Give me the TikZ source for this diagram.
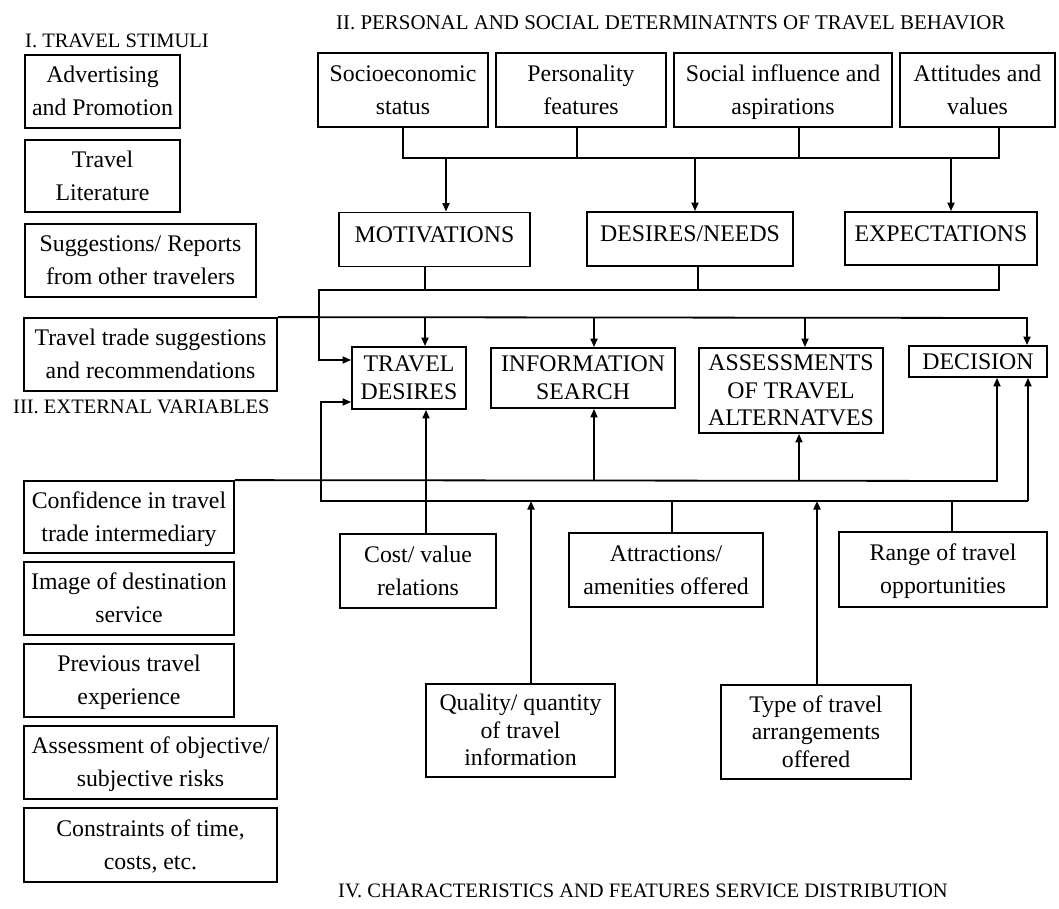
\documentclass[tikz,border=0pt]{standalone}
\usepackage{fontspec}
\setmainfont{Liberation Serif}
\usetikzlibrary{arrows.meta}
\newcommand\bstrut{\rule[-8.9pt]{0pt}{33pt}}
\newcommand\tstrut{\rule[-6.2pt]{0pt}{27.5pt}}
\begin{document}
\begin{tikzpicture}[x=1pt,y=-1pt,
  box/.style={draw, line width=1.8pt, align=center, inner sep=0pt, font=\fontsize{23.8}{33}\selectfont},
  tbox/.style={box, font=\fontsize{23.8}{27.5}\selectfont},
  cbox/.style={draw, line width=1.8pt, inner sep=0pt, font=\fontsize{23.8}{33}\selectfont, text height=17pt, text depth=11.3pt},
  ttl/.style={font=\fontsize{20.5}{24}\selectfont, inner sep=0pt, anchor=west},
  ln/.style={line width=1.8pt},
  arr/.style={ln, -{Triangle[length=8.5pt,width=7pt]}},
]
\useasboundingbox (0,0) rectangle (1059,909);

% titles
\node[ttl] (t1) at (25,41) {I. TRAVEL STIMULI};
\node[ttl, font=\fontsize{20.9}{24}\selectfont] (t2) at (336,23) {II. PERSONAL AND SOCIAL DETERMINATNTS OF TRAVEL BEHAVIOR};
\node[ttl] (t3) at (13,407) {III. EXTERNAL VARIABLES};
\node[ttl] (t4) at (338,891) {IV. CHARACTERISTICS AND FEATURES SERVICE DISTRIBUTION};

% left column
\node[box, minimum width=155pt, minimum height=73pt] (adv) at (102.5,91.5) {\bstrut Advertising\\and Promotion\bstrut};
\node[box, minimum width=155pt, minimum height=72pt] (lit) at (102.5,176) {\bstrut Travel\\Literature\bstrut};
\node[box, minimum width=231pt, minimum height=73pt] (sug) at (140.5,260.5) {\bstrut Suggestions/ Reports\\from other travelers\bstrut};
\node[box, minimum width=253pt, minimum height=73pt] (tt) at (150.5,354.5) {\bstrut Travel trade suggestions\\and recommendations\bstrut};
\node[box, minimum width=210pt, minimum height=72pt] (conf) at (129,517) {\bstrut Confidence in travel\\trade intermediary\bstrut};
\node[box, minimum width=210pt, minimum height=73pt] (img) at (129,598.5) {\bstrut Image of destination\\service\bstrut};
\node[box, minimum width=210pt, minimum height=73pt] (prev) at (129,680.5) {\bstrut Previous travel\\experience\bstrut};
\node[box, minimum width=253pt, minimum height=73pt] (asr) at (150.5,762.5) {\bstrut Assessment of objective/\\subjective risks\bstrut};
\node[box, minimum width=253pt, minimum height=74pt] (con) at (150.5,845) {\bstrut Constraints of time,\\costs, etc.\bstrut};

% top row
\node[box, minimum width=170pt, minimum height=74pt] (socio) at (403,90) {\bstrut Socioeconomic\\status\bstrut};
\node[box, minimum width=170pt, minimum height=74pt] (pers) at (581,90) {\bstrut Personality\\features\bstrut};
\node[box, minimum width=218pt, minimum height=74pt] (soc) at (783,90) {\bstrut Social influence and\\aspirations\bstrut};
\node[box, minimum width=155pt, minimum height=74pt] (att) at (977.5,90) {\bstrut Attitudes and\\values\bstrut};

% middle row
\node[cbox, minimum width=191pt, minimum height=54pt] (motiv) at (434.5,239.5) {MOTIVATIONS};
\node[cbox, minimum width=206pt, minimum height=54pt] (desires) at (690,239) {DESIRES/NEEDS};
\node[cbox, minimum width=192pt, minimum height=53pt] (expect) at (941,238.5) {EXPECTATIONS};

% process row
\node[tbox, minimum width=114pt, minimum height=62pt] (td) at (409,378) {\tstrut TRAVEL\\DESIRES\tstrut};
\node[tbox, minimum width=184pt, minimum height=60pt] (is) at (583,378) {\tstrut INFORMATION\\SEARCH\tstrut};
\node[tbox, minimum width=184pt, minimum height=85pt] (asmt) at (791,390.5) {\tstrut ASSESSMENTS\\OF TRAVEL\\ALTERNATVES\tstrut};
\node[cbox, minimum width=138pt, minimum height=31pt, text depth=1pt] (dec) at (978,361.5) {DECISION};

% bottom boxes
\node[box, minimum width=156pt, minimum height=74pt] (cost) at (418,571) {\bstrut Cost/ value\\relations\bstrut};
\node[box, minimum width=194pt, minimum height=74pt] (attr) at (666,570) {\bstrut Attractions/\\amenities offered\bstrut};
\node[box, minimum width=208pt, minimum height=75pt] (range) at (943,569.5) {\bstrut Range of travel\\opportunities\bstrut};
\node[tbox, minimum width=189pt, minimum height=93pt] (qual) at (520.5,730.5) {\tstrut Quality/ quantity\\of travel\\information\tstrut};
\node[tbox, minimum width=190pt, minimum height=94pt] (type) at (816,732) {\tstrut Type of travel\\arrangements\\offered\tstrut};

% bus 1
\draw[ln] (socio.south) -- (403,158) -| (att.south -| 999,0);
\draw[ln] (pers.south -| 577,0) -- (577,158);
\draw[ln] (soc.south -| 799,0) -- (799,158);
\draw[arr] (446,158) -- (motiv.north -| 446,0);
\draw[arr] (695,158) -- (desires.north -| 695,0);
\draw[arr] (951,158) -- (expect.north -| 951,0);

% bus 2
\draw[ln] (motiv.south -| 425,0) -- (425,290);
\draw[ln] (desires.south -| 698,0) -- (698,290);
\draw[arr] (expect.south -| 999,0) -- (999,290) -- (319,290) |- (td.west |- 0,360);

% bus 3
\draw[arr] (tt.north east) -- (1027,318) -- (dec.north -| 1027,0);
\draw[arr] (425,318) -- (td.north -| 425,0);
\draw[arr] (594,318) -- (is.north -| 594,0);
\draw[arr] (805,318) -- (asmt.north -| 805,0);

% bus 4
\draw[arr] (conf.north east) -- (997,481) -- (dec.south -| 997,0);
\draw[arr] (594,481) -- (is.south -| 594,0);
\draw[arr] (799,481) -- (asmt.south -| 799,0);

% bus 5
\draw[arr] (1028,501) -- (dec.south -| 1028,0);
\draw[arr] (1028,501) -- (321,501) |- (td.west |- 0,402);
\draw[arr] (cost.north -| 426,0) -- (td.south -| 426,0);
\draw[ln] (attr.north -| 672,0) -- (672,501);
\draw[ln] (range.north -| 952,0) -- (952,501);
\draw[arr] (qual.north -| 531,0) -- (531,501);
\draw[arr] (type.north -| 817,0) -- (817,501);
\end{tikzpicture}
\end{document}
